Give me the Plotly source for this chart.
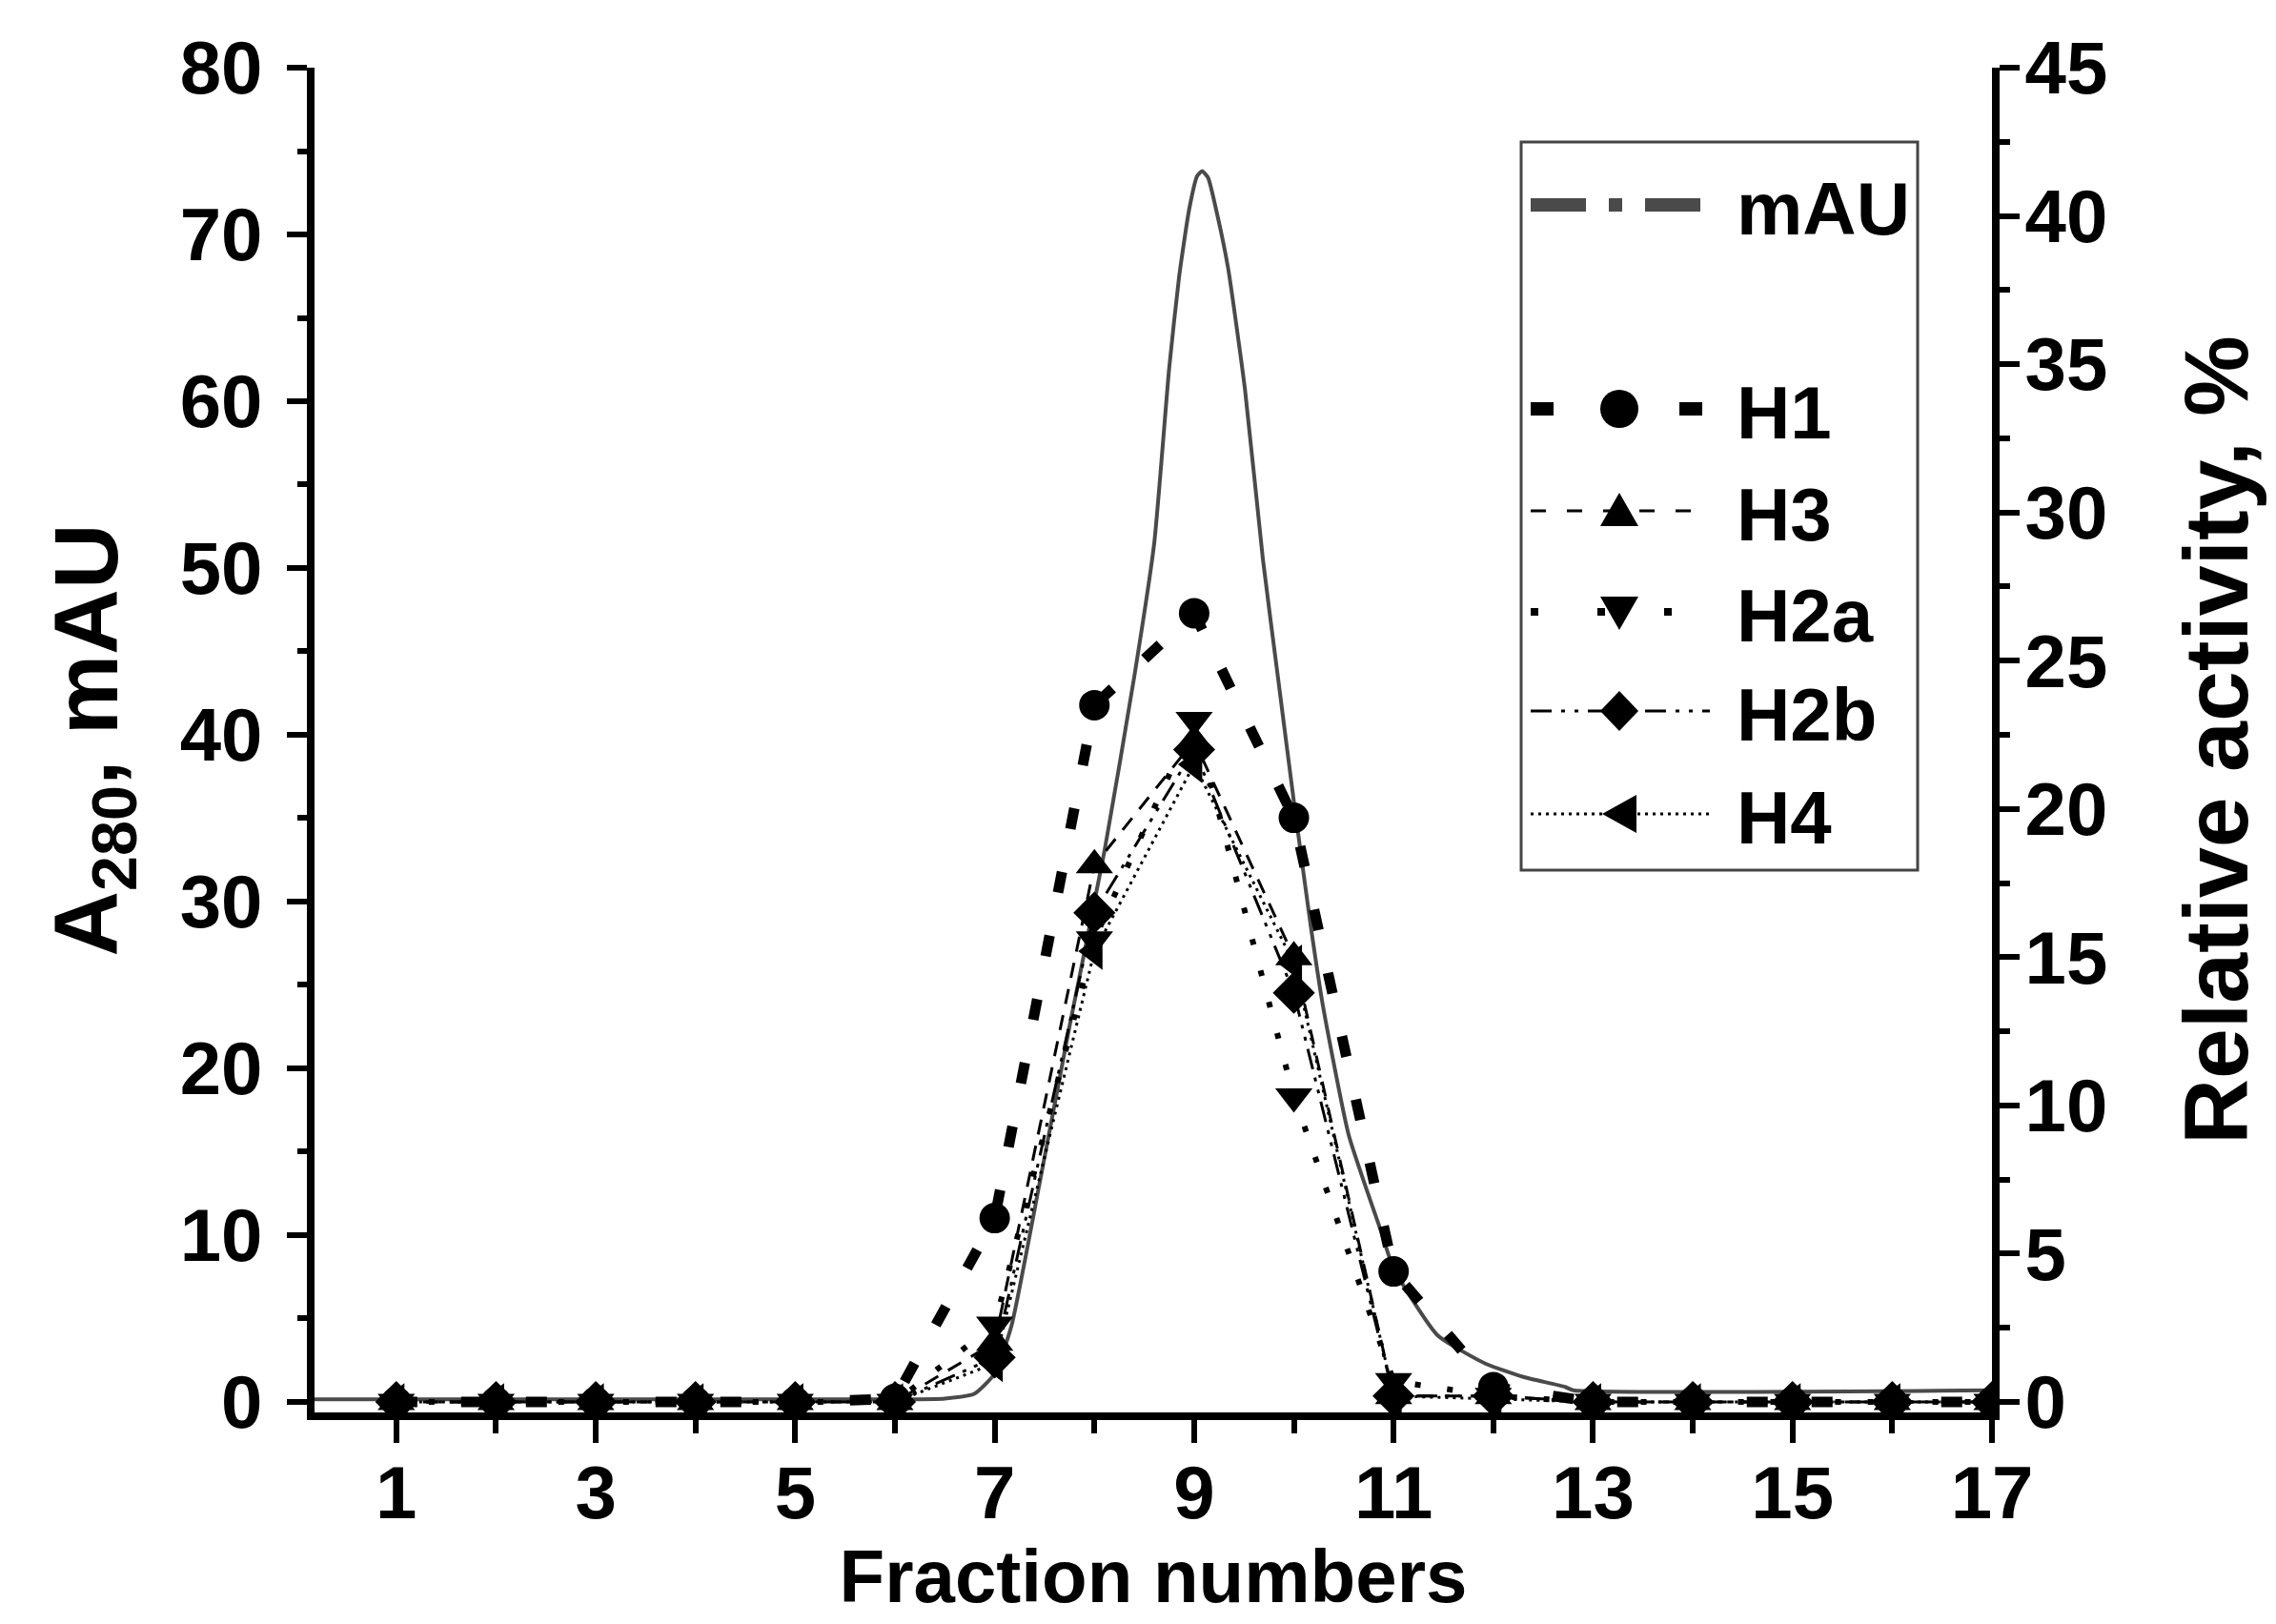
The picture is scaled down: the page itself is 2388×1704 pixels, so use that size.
import plotly.graph_objects as go

# ---------------- data ----------------
fractions = list(range(1, 18))

# A280 chromatogram trace (mAU)
mau_x = [0.18, 6.0, 6.5, 6.8, 7.0, 7.17, 7.45, 7.75, 8.1, 8.4, 8.6, 8.75, 8.85,
         8.95, 9.03, 9.08, 9.14, 9.22, 9.34, 9.51, 9.69, 9.85, 10.0, 10.17,
         10.29, 10.55, 10.87, 11.0, 11.44, 11.92, 12.3, 12.72, 12.8, 17.0]
mau_y = [0.15, 0.15, 0.2, 0.5, 1.7, 4.6, 13.1, 22.5, 33.0, 43.5, 51.5, 62.0, 67.5,
         71.5, 73.5, 73.8, 73.4, 71.5, 68.0, 60.7, 50.5, 43.0, 36.0, 28.5,
         23.8, 16.0, 10.3, 8.0, 4.0, 2.3, 1.5, 0.9, 0.7, 0.7]

# relative activity, % (right axis)
h1 = [0, 0, 0, 0, 0, 0.1, 6.2, 23.5, 26.6, 19.7, 4.4, 0.5, 0, 0, 0, 0, 0]
h3 = [0, 0, 0, 0, 0, 0, 2.0, 18.1, 22.3, 15.0, 0.2, 0.2, 0, 0, 0, 0, 0]
h2a = [0, 0, 0, 0, 0, 0, 2.6, 15.6, 23.0, 10.3, 0.7, 0.2, 0, 0, 0, 0, 0]
h2b = [0, 0, 0, 0, 0, 0, 1.5, 16.5, 22.0, 13.8, 0.2, 0.2, 0, 0, 0, 0, 0]
h4 = [0, 0, 0, 0, 0, 0, 1.3, 15.2, 21.5, 14.8, 0.2, 0.1, 0, 0, 0, 0, 0]

x_ticks = [1, 3, 5, 7, 9, 11, 13, 15, 17]
left_ticks = [0, 10, 20, 30, 40, 50, 60, 70, 80]
right_ticks = [0, 5, 10, 15, 20, 25, 30, 35, 40, 45]

# ---------------- styles ----------------
FONT = "Liberation Sans"
FS = 78
W, H = 2388, 1704
L, R, T, B = 322, 2082, 63, 1474   # plot area in pixels

series = [
    ("H1", h1, "circle", 32, 11, "22px,46px"),
    ("H3", h3, "triangle-up", 34, 3, "16px,12px"),
    ("H2a", h2a, "triangle-down", 34, 6, "6px,28px"),
    ("H2b", h2b, "diamond", 34, 3, "22px,9px,4px,9px,4px,9px"),
    ("H4", h4, "triangle-left", 34, 3, "3px,5px"),
]

fig = go.Figure()
fig.add_trace(go.Scatter(x=mau_x, y=mau_y, mode="lines", name="mAU",
                         line=dict(color="#4a4a4a", width=4, shape="spline", smoothing=0.5),
                         yaxis="y", showlegend=False))
for name, vals, sym, ms, lw, dash in series:
    fig.add_trace(go.Scatter(x=fractions, y=vals, mode="lines+markers", name=name,
                             line=dict(color="black", width=lw, dash=dash),
                             marker=dict(symbol=sym, size=ms, color="black"),
                             yaxis="y2", showlegend=False))

# ---------------- manual legend (layout positions) ----------------
def px(xp):
    return (xp - L) / (R - L)

def py(yp):
    return (B - yp) / (B - T)

shapes = [dict(type="rect", xref="paper", yref="paper",
               x0=px(1588), x1=px(2004), y0=py(905), y1=py(141),
               line=dict(color="#444", width=3), fillcolor="white", layer="above")]
annotations = []

leg_rows = [
    ("mAU", 207, None, "#4a4a4a", 14, "58px,24px,14px,24px"),
    ("H1", 421, "circle", "black", 14, "24px,54px"),
    ("H3", 528, "tri_up", "black", 3, "16px,22px"),
    ("H2a", 634, "tri_down", "black", 8, "8px,62px"),
    ("H2b", 738, "diamond", "black", 3, "22px,10px,4px,10px,4px,10px"),
    ("H4", 846, "tri_left", "black", 3, "3px,5px"),
]
paths = {
    "tri_up": "M -20 -16 L 20 -16 L 0 19 Z",
    "tri_down": "M -20 16 L 20 16 L 0 -19 Z",
    "diamond": "M 0 21 L 20 0 L 0 -21 L -20 0 Z",
    "tri_left": "M 18 -20 L 18 20 L -18 0 Z",
}
for label, yrow, mk, col, lw, dash in leg_rows:
    shapes.append(dict(type="line", xref="paper", yref="paper",
                       x0=px(1598), x1=px(1786), y0=py(yrow), y1=py(yrow),
                       line=dict(color=col, width=lw, dash=dash), layer="above"))
    if mk == "circle":
        shapes.append(dict(type="circle", xref="paper", yref="paper",
                           xsizemode="pixel", ysizemode="pixel",
                           xanchor=px(1691), yanchor=py(yrow),
                           x0=-20, x1=20, y0=-20, y1=20,
                           fillcolor="black", line=dict(width=0), layer="above"))
    elif mk is not None:
        shapes.append(dict(type="path", xref="paper", yref="paper",
                           xsizemode="pixel", ysizemode="pixel",
                           xanchor=px(1691), yanchor=py(yrow),
                           path=paths[mk], fillcolor="black",
                           line=dict(width=0), layer="above"))
    annotations.append(dict(text=label, xref="paper", yref="paper",
                            x=px(1812), y=py(yrow + 4), xanchor="left", yanchor="middle",
                            showarrow=False,
                            font=dict(family=FONT, size=FS, color="black", weight="bold")))

axis_font = dict(family=FONT, size=FS, color="black", weight="bold")
xtitle_font = dict(family=FONT, size=78, color="black", weight="bold")
ytitle_font = dict(family=FONT, size=95, color="black", weight="bold")

fig.update_layout(
    width=W, height=H,
    margin=dict(l=L, r=W - R, t=T, b=H - B, autoexpand=False),
    paper_bgcolor="white", plot_bgcolor="white",
    showlegend=False,
    shapes=shapes, annotations=annotations,
    xaxis=dict(range=[0.18, 17.0], tickmode="array", tickvals=x_ticks,
               ticktext=[str(v) for v in x_ticks],
               ticks="outside", ticklen=24, tickwidth=6, tickcolor="black",
               minor=dict(dtick=1, tick0=0, ticks="outside", ticklen=14, tickwidth=6,
                          tickcolor="black"),
               showline=True, linewidth=8, linecolor="black", showgrid=False,
               zeroline=False, tickfont=axis_font, ticklabelstandoff=-15,
               title=dict(text="Fraction numbers", font=xtitle_font, standoff=0)),
    yaxis=dict(range=[-0.63, 80], tickmode="array", tickvals=left_ticks,
               ticks="outside", ticklen=21, tickwidth=6, tickcolor="black",
               minor=dict(dtick=5, tick0=0, ticks="outside", ticklen=10, tickwidth=6,
                          tickcolor="black"),
               showline=True, linewidth=8, linecolor="black", showgrid=False,
               zeroline=False, tickfont=axis_font, ticklabelstandoff=10,
               title=dict(text="A<sub>280</sub>, mAU", font=ytitle_font, standoff=36)),
    yaxis2=dict(range=[-0.63 * 45 / 80, 45], tickmode="array", tickvals=right_ticks,
                overlaying="y", side="right",
                ticks="outside", ticklen=21, tickwidth=6, tickcolor="black",
                minor=dict(dtick=2.5, tick0=0, ticks="outside", ticklen=11, tickwidth=6,
                           tickcolor="black"),
                showline=True, linewidth=8, linecolor="black", showgrid=False,
                zeroline=False, tickfont=axis_font, ticklabelstandoff=-10,
                title=dict(text="Relative activity, %", font=ytitle_font, standoff=84)),
)

fig.write_html("out.html")
